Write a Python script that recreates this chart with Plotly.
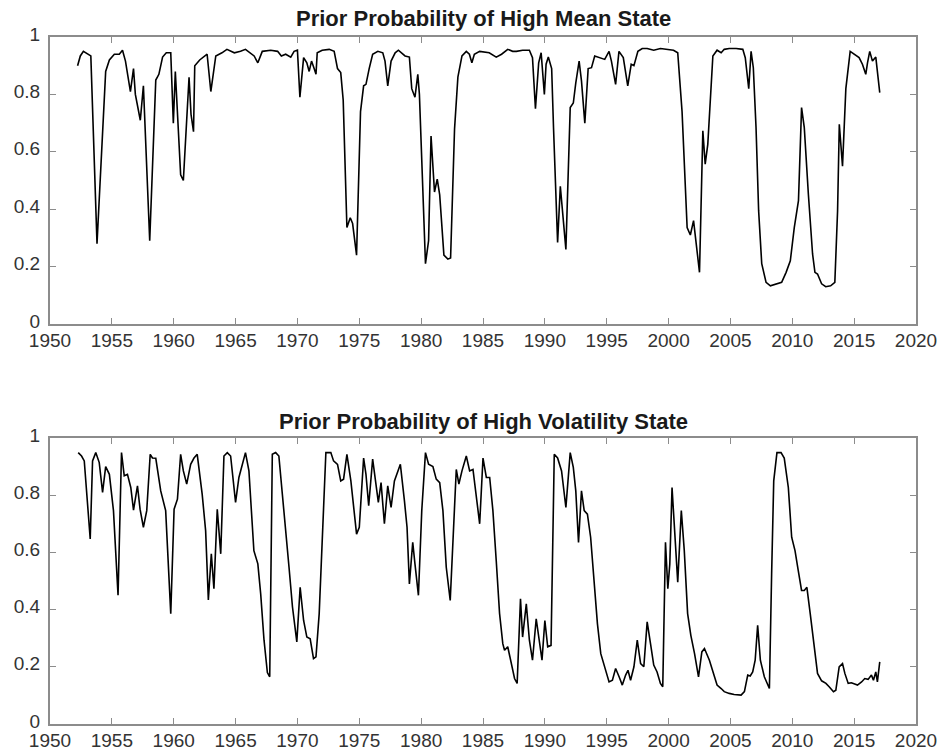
import plotly.graph_objects as go

# ---- Data ----
mean_years = [1952.23, 1952.45, 1952.7, 1953.04, 1953.3, 1953.8, 1954.5, 1954.8, 1955.2, 1955.6,
              1955.86, 1956.1, 1956.5, 1956.75, 1956.9, 1957.3, 1957.55, 1958.06, 1958.55, 1958.8,
              1959.1, 1959.4, 1959.76, 1959.97, 1960.13, 1960.56, 1960.78, 1961.24, 1961.4, 1961.6,
              1961.7, 1962.1, 1962.4, 1962.7, 1963.0, 1963.4, 1963.9, 1964.3, 1964.9, 1965.4,
              1965.8, 1966.5, 1966.8, 1967.16, 1967.84, 1968.4, 1968.7, 1969.05, 1969.46, 1969.73,
              1970.0, 1970.2, 1970.5, 1970.76, 1970.95, 1971.14, 1971.35, 1971.5, 1971.6, 1972.0,
              1972.57, 1972.97, 1973.24, 1973.5, 1973.7, 1974.0, 1974.27, 1974.46, 1974.78, 1975.1,
              1975.35, 1975.54, 1975.8, 1976.08, 1976.5, 1976.9, 1977.08, 1977.3, 1977.57, 1977.9,
              1978.16, 1978.43, 1978.7, 1979.05, 1979.24, 1979.5, 1979.73, 1979.86, 1980.35, 1980.6,
              1980.8, 1981.08, 1981.3, 1981.5, 1981.84, 1982.16, 1982.38, 1982.7, 1982.97, 1983.3,
              1983.65, 1983.9, 1984.1, 1984.3, 1984.73, 1985.5, 1986.07, 1986.5, 1987.0, 1987.4,
              1987.7, 1988.2, 1988.75, 1989.0, 1989.24, 1989.5, 1989.7, 1989.96, 1990.1, 1990.28,
              1990.55, 1990.7, 1991.03, 1991.25, 1991.43, 1991.7, 1992.05, 1992.3, 1992.5, 1992.77,
              1992.96, 1993.23, 1993.5, 1993.77, 1994.03, 1994.46, 1994.84, 1995.19, 1995.38, 1995.72,
              1995.99, 1996.34, 1996.7, 1996.98, 1997.2, 1997.52, 1997.87, 1998.27, 1998.8, 1999.34,
              1999.88, 2000.4, 2000.74, 2001.09, 2001.5, 2001.76, 2002.02, 2002.5, 2002.77, 2002.96,
              2003.17, 2003.4, 2003.58, 2003.92, 2004.25, 2004.5, 2004.9, 2005.46, 2006.0, 2006.2,
              2006.48, 2006.67, 2006.85, 2007.07, 2007.28, 2007.53, 2007.88, 2008.23, 2008.68, 2009.14,
              2009.5, 2009.84, 2010.16, 2010.5, 2010.75, 2010.97, 2011.3, 2011.64, 2011.83, 2012.04,
              2012.37, 2012.7, 2013.1, 2013.44, 2013.66, 2013.8, 2014.06, 2014.33, 2014.68, 2015.0,
              2015.4, 2015.67, 2015.94, 2016.08, 2016.26, 2016.48, 2016.75, 2017.07]
mean_probs = [0.90, 0.934, 0.95, 0.94, 0.934, 0.28, 0.88, 0.92, 0.94, 0.94,
              0.954, 0.916, 0.81, 0.89, 0.80, 0.71, 0.83, 0.29, 0.85, 0.87,
              0.93, 0.945, 0.945, 0.70, 0.88, 0.52, 0.50, 0.86, 0.73, 0.67,
              0.90, 0.92, 0.93, 0.94, 0.81, 0.934, 0.945, 0.957, 0.945, 0.95,
              0.957, 0.934, 0.91, 0.95, 0.954, 0.95, 0.934, 0.94, 0.93, 0.95,
              0.954, 0.79, 0.928, 0.91, 0.88, 0.916, 0.89, 0.87, 0.945, 0.954,
              0.957, 0.95, 0.89, 0.876, 0.78, 0.336, 0.37, 0.35, 0.24, 0.74,
              0.83, 0.835, 0.89, 0.94, 0.95, 0.945, 0.916, 0.83, 0.916, 0.945,
              0.954, 0.945, 0.934, 0.93, 0.82, 0.79, 0.87, 0.80, 0.21, 0.29,
              0.655, 0.46, 0.505, 0.45, 0.24, 0.226, 0.23, 0.68, 0.86, 0.934,
              0.95, 0.94, 0.91, 0.94, 0.95, 0.945, 0.93, 0.94, 0.957, 0.95,
              0.95, 0.954, 0.954, 0.928, 0.75, 0.91, 0.945, 0.80, 0.905, 0.93,
              0.89, 0.684, 0.284, 0.48, 0.38, 0.26, 0.754, 0.77, 0.84, 0.916,
              0.847, 0.70, 0.89, 0.893, 0.934, 0.928, 0.922, 0.95, 0.916, 0.835,
              0.95, 0.928, 0.83, 0.905, 0.90, 0.95, 0.96, 0.96, 0.954, 0.96,
              0.957, 0.954, 0.945, 0.74, 0.336, 0.31, 0.36, 0.18, 0.673, 0.557,
              0.626, 0.81, 0.934, 0.954, 0.945, 0.957, 0.96, 0.96, 0.957, 0.928,
              0.82, 0.95, 0.893, 0.684, 0.394, 0.21, 0.145, 0.133, 0.14, 0.145,
              0.18, 0.22, 0.336, 0.43, 0.754, 0.684, 0.452, 0.244, 0.18, 0.174,
              0.14, 0.13, 0.133, 0.145, 0.394, 0.696, 0.55, 0.82, 0.95, 0.94,
              0.928, 0.905, 0.87, 0.91, 0.95, 0.916, 0.93, 0.806]

vol_years = [1952.28, 1952.55, 1952.77, 1952.98, 1953.25, 1953.44, 1953.7, 1953.98, 1954.25, 1954.5,
             1954.8, 1955.13, 1955.5, 1955.78, 1956.0, 1956.26, 1956.53, 1956.75, 1957.07, 1957.28,
             1957.55, 1957.82, 1958.1, 1958.28, 1958.55, 1958.95, 1959.35, 1959.76, 1960.03, 1960.3,
             1960.56, 1960.78, 1961.05, 1961.37, 1961.64, 1961.9, 1962.3, 1962.58, 1962.8, 1963.04,
             1963.25, 1963.52, 1963.66, 1963.8, 1964.06, 1964.33, 1964.6, 1965.0, 1965.27, 1965.54,
             1965.8, 1966.08, 1966.48, 1966.8, 1967.03, 1967.3, 1967.57, 1967.76, 1967.97, 1968.24,
             1968.5, 1968.78, 1969.05, 1969.32, 1969.6, 1969.95, 1970.22, 1970.5, 1970.76, 1971.03,
             1971.3, 1971.5, 1971.76, 1972.03, 1972.3, 1972.7, 1972.92, 1973.24, 1973.5, 1973.73,
             1974.0, 1974.32, 1974.6, 1974.78, 1975.0, 1975.35, 1975.54, 1975.76, 1976.08, 1976.35,
             1976.54, 1976.76, 1977.03, 1977.3, 1977.57, 1977.84, 1978.32, 1978.65, 1978.86, 1979.05,
             1979.32, 1979.5, 1979.78, 1980.05, 1980.35, 1980.6, 1980.95, 1981.22, 1981.5, 1981.76,
             1982.03, 1982.35, 1982.57, 1982.84, 1983.05, 1983.3, 1983.65, 1983.92, 1984.19, 1984.46,
             1984.73, 1985.0, 1985.27, 1985.54, 1985.8, 1986.07, 1986.34, 1986.6, 1986.74, 1987.0,
             1987.28, 1987.55, 1987.76, 1988.03, 1988.2, 1988.5, 1988.75, 1989.0, 1989.3, 1989.56,
             1989.77, 1990.0, 1990.23, 1990.5, 1990.76, 1991.03, 1991.35, 1991.7, 1992.05, 1992.3,
             1992.5, 1992.72, 1992.96, 1993.18, 1993.44, 1993.7, 1993.98, 1994.25, 1994.52, 1994.84,
             1995.19, 1995.46, 1995.72, 1996.0, 1996.26, 1996.53, 1996.72, 1996.93, 1997.2, 1997.47,
             1997.74, 1998.0, 1998.27, 1998.54, 1998.8, 1999.07, 1999.34, 1999.53, 1999.75, 1999.94,
             2000.1, 2000.28, 2000.5, 2000.74, 2001.03, 2001.27, 2001.54, 2001.8, 2002.1, 2002.42,
             2002.69, 2002.9, 2003.3, 2003.58, 2003.92, 2004.25, 2004.5, 2004.9, 2005.3, 2005.86,
             2006.13, 2006.4, 2006.6, 2006.8, 2007.0, 2007.2, 2007.42, 2007.74, 2008.15, 2008.33,
             2008.5, 2008.76, 2009.09, 2009.35, 2009.68, 2009.95, 2010.22, 2010.48, 2010.75, 2010.97,
             2011.18, 2011.45, 2011.77, 2012.04, 2012.37, 2012.72, 2012.98, 2013.33, 2013.52, 2013.79,
             2014.06, 2014.25, 2014.52, 2014.78, 2015.27, 2015.6, 2015.86, 2016.13, 2016.4, 2016.56,
             2016.75, 2016.88, 2017.07]
vol_probs = [0.949, 0.937, 0.92, 0.80, 0.647, 0.92, 0.949, 0.914, 0.81, 0.90,
             0.873, 0.746, 0.45, 0.949, 0.868, 0.873, 0.827, 0.748, 0.833, 0.751,
             0.688, 0.746, 0.943, 0.93, 0.929, 0.815, 0.746, 0.386, 0.751, 0.786,
             0.943, 0.885, 0.839, 0.908, 0.93, 0.943, 0.804, 0.676, 0.434, 0.595,
             0.473, 0.751, 0.653, 0.595, 0.937, 0.949, 0.937, 0.775, 0.862, 0.908,
             0.949, 0.885, 0.606, 0.56, 0.455, 0.293, 0.18, 0.165, 0.943, 0.949,
             0.937, 0.804, 0.688, 0.548, 0.409, 0.287, 0.478, 0.362, 0.304, 0.298,
             0.229, 0.235, 0.386, 0.688, 0.949, 0.949, 0.92, 0.908, 0.85, 0.856,
             0.943, 0.85, 0.734, 0.664, 0.688, 0.93, 0.873, 0.763, 0.926, 0.827,
             0.775, 0.844, 0.70, 0.833, 0.757, 0.85, 0.908, 0.78, 0.688, 0.49,
             0.635, 0.56, 0.45, 0.746, 0.949, 0.908, 0.90, 0.856, 0.844, 0.746,
             0.548, 0.432, 0.63, 0.89, 0.839, 0.885, 0.937, 0.885, 0.89, 0.804,
             0.70, 0.93, 0.862, 0.862, 0.746, 0.571, 0.386, 0.281, 0.258, 0.27,
             0.211, 0.159, 0.142, 0.438, 0.304, 0.42, 0.293, 0.223, 0.368, 0.293,
             0.223, 0.362, 0.27, 0.275, 0.943, 0.93, 0.885, 0.757, 0.949, 0.897,
             0.815, 0.635, 0.815, 0.746, 0.734, 0.653, 0.49, 0.35, 0.246, 0.20,
             0.147, 0.153, 0.194, 0.165, 0.136, 0.171, 0.188, 0.153, 0.20, 0.293,
             0.211, 0.20, 0.357, 0.281, 0.206, 0.182, 0.142, 0.13, 0.635, 0.473,
             0.56, 0.827, 0.653, 0.496, 0.746, 0.606, 0.386, 0.31, 0.246, 0.165,
             0.252, 0.264, 0.223, 0.182, 0.136, 0.124, 0.113, 0.107, 0.103, 0.101,
             0.113, 0.171, 0.168, 0.182, 0.223, 0.345, 0.223, 0.165, 0.124, 0.525,
             0.85, 0.949, 0.949, 0.93, 0.827, 0.653, 0.606, 0.537, 0.467, 0.467,
             0.478, 0.386, 0.27, 0.177, 0.151, 0.142, 0.13, 0.113, 0.118, 0.20,
             0.211, 0.177, 0.142, 0.144, 0.136, 0.147, 0.159, 0.156, 0.171, 0.153,
             0.182, 0.147, 0.217]

titles = ["Prior Probability of High Mean State", "Prior Probability of High Volatility State"]
x_ticks = list(range(1950, 2021, 5))
y_ticks = [0, 0.2, 0.4, 0.6, 0.8, 1]
y_tick_text = ["0", "0.2", "0.4", "0.6", "0.8", "1"]

# ---- Layout geometry (pixels) ----
W, H = 948, 753
L, R, T, B = 50, 916, 37, 724          # outer plot-area box
TOP_BOTTOM, BOT_TOP = 324, 438         # inner edges of the two panels
PH = B - T


def py(px):
    """pixel row -> paper y fraction (relative to the plot area)"""
    return (B - px) / PH


top_dom = [py(TOP_BOTTOM), 1.0]
bot_dom = [0.0, py(BOT_TOP)]

FONT = "Liberation Sans, Arial, Helvetica, sans-serif"
frame = "#8c8c8c"

fig = go.Figure()
fig.add_trace(go.Scatter(x=mean_years, y=mean_probs, mode="lines",
                         line=dict(color="black", width=1.6), xaxis="x", yaxis="y",
                         showlegend=False, hoverinfo="skip"))
fig.add_trace(go.Scatter(x=vol_years, y=vol_probs, mode="lines",
                         line=dict(color="black", width=1.6), xaxis="x2", yaxis="y2",
                         showlegend=False, hoverinfo="skip"))

xa = dict(range=[1950, 2020], tickmode="array", tickvals=x_ticks,
          ticktext=[str(t) for t in x_ticks], ticks="inside", ticklen=6, tickwidth=1.2,
          tickcolor=frame, showline=True, linecolor=frame, linewidth=2, mirror="ticks",
          showgrid=False, zeroline=False, automargin=False, ticklabelstandoff=-2,
          tickfont=dict(family=FONT, size=19, color="#333333"))
ya = dict(range=[0, 1], tickmode="array", tickvals=y_ticks, ticktext=y_tick_text,
          ticks="inside", ticklen=6, tickwidth=1.2, tickcolor=frame, showline=True,
          linecolor=frame, linewidth=2, mirror="ticks", showgrid=False, zeroline=False,
          automargin=False, ticklabelstandoff=4, ticklabelshift=-3,
          tickfont=dict(family=FONT, size=19, color="#333333"))

fig.update_layout(
    width=W, height=H, margin=dict(l=L, r=W - R, t=T, b=H - B, pad=0, autoexpand=False),
    paper_bgcolor="white", plot_bgcolor="white",
    xaxis=dict(xa, anchor="y"),
    yaxis=dict(ya, domain=top_dom, anchor="x"),
    xaxis2=dict(xa, anchor="y2"),
    yaxis2=dict(ya, domain=bot_dom, anchor="x2"),
    annotations=[
        dict(text="<b>%s</b>" % titles[0], x=0.5, y=py(19),
             xref="paper", yref="paper", xanchor="center", yanchor="middle",
             showarrow=False, font=dict(family=FONT, size=22, color="#1a1a1a")),
        dict(text="<b>%s</b>" % titles[1], x=0.5, y=py(421),
             xref="paper", yref="paper", xanchor="center", yanchor="middle",
             showarrow=False, font=dict(family=FONT, size=22, color="#1a1a1a")),
    ],
)

fig.write_html("out.html")
